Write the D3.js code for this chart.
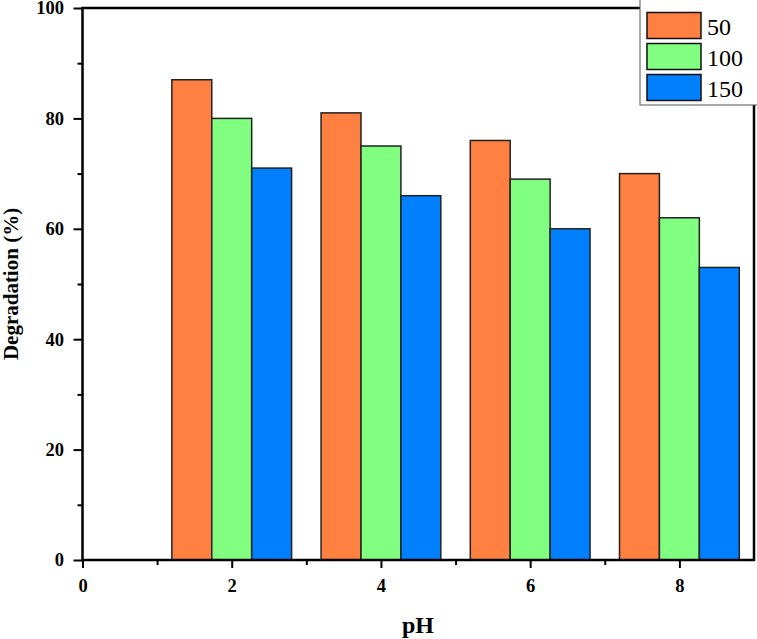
<!DOCTYPE html>
<html>
<head>
<meta charset="utf-8">
<script src="https://cdn.jsdelivr.net/npm/d3@7"></script>
<style>
    body { margin: 0; background: #fff; }
    svg text { font-family: "Liberation Serif", "Times New Roman", Times, serif; }
</style>
</head>
<body>
<div id="chart"></div>
<script>
// data
const phValues = [2, 4, 6, 8];
const seriesNames = ['50', '100', '150'];
const deg50 = [87, 81, 76, 70];
const deg100 = [80, 75, 69, 62];
const deg150 = [71, 66, 60, 53];
const seriesColors = ['#FF8040', '#80FF80', '#0080FF'];
const xTicks = [0, 2, 4, 6, 8];
const yTicks = [0, 20, 40, 60, 80, 100];

const width = 757, height = 639;
const margin = {left: 82.5, right: 3, top: 8, bottom: 79};
const serif = '"Liberation Serif", "Times New Roman", Times, serif';

const svg = d3.select('#chart').append('svg')
    .attr('width', width)
    .attr('height', height);

const x = d3.scaleLinear().domain([0, 9]).range([margin.left, width - margin.right]);
const y = d3.scaleLinear().domain([0, 100]).range([height - margin.bottom, margin.top]);

const barW = 0.535;
const allSeries = [deg50, deg100, deg150];

// bars
const barG = svg.append('g');
allSeries.forEach((vals, si) => {
    barG.selectAll('rect.s' + si)
        .data(vals)
        .enter()
        .append('rect')
        .attr('class', 's' + si)
        .attr('x', (d, i) => x(phValues[i] + (si - 1) * barW - barW / 2))
        .attr('width', x(barW) - x(0))
        .attr('y', d => y(d))
        .attr('height', d => y(0) - y(d))
        .attr('fill', seriesColors[si])
        .attr('stroke', '#222')
        .attr('stroke-width', 1.5);
});

// axes
const xAxis = d3.axisBottom(x).tickValues(xTicks).tickSize(8).tickPadding(11).tickFormat(d3.format('d'));
const xMinor = d3.axisBottom(x).tickValues([1, 3, 5, 7]).tickSize(5).tickFormat('');
const yAxis = d3.axisLeft(y).tickValues(yTicks).tickSize(9).tickPadding(9.5).tickFormat(d3.format('d'));
const yMinor = d3.axisLeft(y).tickValues([10, 30, 50, 70, 90]).tickSize(5).tickFormat('');

const styleAxis = (g) => {
    g.attr('font-family', null).attr('font-size', null);
    g.select('.domain').remove();
    g.selectAll('line').attr('stroke', '#000').attr('stroke-width', 2);
    g.selectAll('text')
        .style('font-family', serif)
        .style('font-weight', 'bold')
        .style('font-size', '18.5px')
        .attr('fill', '#000');
};

svg.append('g').attr('transform', `translate(0,${y(0)})`).call(xAxis).call(styleAxis);
svg.append('g').attr('transform', `translate(0,${y(0)})`).call(xMinor).call(styleAxis);
svg.append('g').attr('transform', `translate(${x(0)},0)`).call(yAxis).call(styleAxis);
svg.append('g').attr('transform', `translate(${x(0)},0)`).call(yMinor).call(styleAxis);

// frame
svg.append('rect')
    .attr('x', x(0))
    .attr('y', y(100))
    .attr('width', x(9) - x(0))
    .attr('height', y(0) - y(100))
    .attr('fill', 'none')
    .attr('stroke', '#000')
    .attr('stroke-width', 2.5);

// axis titles
svg.append('text')
    .attr('x', 418)
    .attr('y', 633)
    .attr('text-anchor', 'middle')
    .style('font-weight', 'bold')
    .style('font-size', '24px')
    .text('pH');

svg.append('text')
    .attr('transform', `translate(18,${(y(0) + y(100)) / 2}) rotate(-90)`)
    .attr('text-anchor', 'middle')
    .style('font-weight', 'bold')
    .style('font-size', '21px')
    .text('Degradation (%)');

// legend
const legend = svg.append('g');
legend.append('rect')
    .attr('x', 640)
    .attr('y', -1)
    .attr('width', 120)
    .attr('height', 106)
    .attr('fill', '#fff')
    .attr('stroke', '#555')
    .attr('stroke-width', 1);

const items = legend.selectAll('g.item')
    .data(seriesNames)
    .enter()
    .append('g')
    .attr('class', 'item')
    .attr('transform', (d, i) => `translate(647,${12.5 + i * 31})`);

items.append('rect')
    .attr('width', 54)
    .attr('height', 26)
    .attr('fill', (d, i) => seriesColors[i])
    .attr('stroke', '#111')
    .attr('stroke-width', 1.5);

items.append('text')
    .attr('x', 60)
    .attr('y', 22)
    .style('font-size', '24px')
    .text(d => d);
</script>
</body>
</html>
